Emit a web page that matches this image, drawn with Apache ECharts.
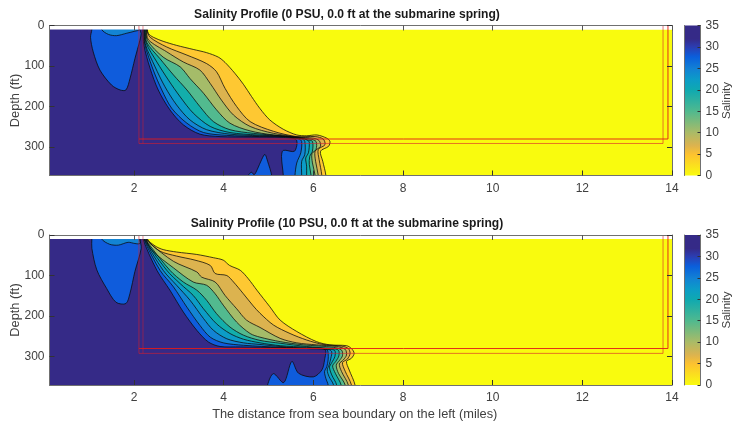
<!DOCTYPE html>
<html><head><meta charset="utf-8">
<style>html,body{margin:0;padding:0;background:#fff}#c{width:733px;height:428px}</style>
<script src="https://cdn.jsdelivr.net/npm/echarts@6/dist/echarts.min.js"></script>
</head><body><div id="c"></div>
<script>
const titles = ['Salinity Profile (0 PSU, 0.0 ft at the submarine spring)','Salinity Profile (10 PSU, 0.0 ft at the submarine spring)'];
const xLabel = 'The distance from sea boundary on the left (miles)';
const yLabel = 'Depth (ft)';
const cbLabel = 'Salinity';
const xTicks = [2,4,6,8,10,12,14];
const yTicks = [0,100,200,300];
const bandColors = ['#fec832','#dcb34f','#a5bc69','#52ba8f','#13aeab','#0c9cc7','#1384d4','#0f5cdc','#352a87'];
const yellow = '#f9fb0e';
const colorbarStops = [[0,'#352a87'],[0.09,'#352a87'],[0.14,'#2c3cb0'],[0.21,'#0a5fdc'],[0.29,'#1282d4'],[0.36,'#0c9cc7'],[0.43,'#0fa9b0'],[0.57,'#4fb98f'],[0.71,'#a8bb68'],[0.80,'#dcb34f'],[0.86,'#fdc22f'],[1,'#f9fb0e']];

const fieldBox = [[0.115,10],[14,10],[14,370],[0.115,370]];
const topBand = [[0.115,0],[14,0],[14,10],[0.115,10]];

const u1 = [[2.30,10],[2.32,20],[2.43,29],[2.65,39],[2.95,49],[3.32,59],[3.62,67],[3.88,78],[4.03,91],[4.25,118],[4.44,145],[4.62,175],[4.81,205],[5.03,233],[5.33,256],[5.63,270],[5.85,272],[6.08,270],[6.30,278],[6.37,286],[6.34,298],[6.16,310],[6.21,335],[6.28,370]];
const u2 = [[2.29,10],[2.36,29],[2.73,53],[3.18,73],[3.62,94],[3.84,114],[4.03,155],[4.29,200],[4.59,237],[5.11,261],[5.63,274],[6.04,274],[6.22,280],[6.26,294],[6.11,306],[6.13,331],[6.19,370]];
const u3 = [[2.28,10],[2.32,35],[2.73,65],[3.10,90],[3.47,110],[3.70,143],[3.95,184],[4.22,221],[4.59,249],[5.11,266],[5.65,275],[6.0,278],[6.13,284],[6.16,298],[6.04,310],[6.05,335],[6.11,370]];
const u4 = [[2.27,10],[2.30,37],[2.65,78],[3.03,102],[3.25,131],[3.55,167],[3.84,208],[4.14,241],[4.59,260],[5.11,270],[5.65,276],[5.93,280],[6.06,286],[6.06,306],[5.97,316],[5.98,339],[6.04,370]];
const u5 = [[2.26,10],[2.28,41],[2.58,82],[2.88,122],[3.18,159],[3.47,200],[3.77,237],[4.14,257],[4.66,266],[5.26,272],[5.7,277],[5.87,282],[5.98,286],[5.98,310],[5.92,323],[5.91,343],[5.95,370]];
const u6 = [[2.24,10],[2.27,43],[2.51,90],[2.77,135],[3.03,176],[3.32,216],[3.70,249],[4.14,264],[4.74,270],[5.3,273],[5.75,278],[5.87,283],[5.91,288],[5.89,314],[5.83,327],[5.85,347],[5.85,370]];
const u7 = [[2.23,10],[2.25,45],[2.47,102],[2.69,151],[2.95,196],[3.25,233],[3.62,257],[4.14,268],[4.8,272],[5.4,274],[5.75,280],[5.81,286],[5.81,318],[5.74,335],[5.74,370]];
const u8 = [[2.22,10],[2.24,46],[2.43,110],[2.62,159],[2.84,204],[3.18,241],[3.55,264],[4.07,271],[4.8,274],[5.4,275],[5.68,280],[5.74,286],[5.72,314],[5.63,339],[5.59,370]];
const u9 = [[2.20,10],[2.22,48],[2.36,106],[2.54,159],[2.80,208],[3.10,245],[3.47,268],[3.92,274],[4.6,275],[5.3,276],[5.62,282],[5.58,310],[5.33,308],[5.29,323],[5.33,370]];
const uBlob = [[1.06,10],[1.03,29],[1.09,65],[1.24,110],[1.50,147],[1.69,159],[1.82,159],[1.91,131],[2.02,82],[2.13,37],[2.16,20],[2.13,10]];
const uSubBlob = [[1.28,10],[1.43,22],[1.61,25],[1.84,19],[2.02,14],[2.12,10]];
const uBottomBlob = [[4.55,370],[4.62,362],[4.68,368],[4.75,355],[4.85,330],[4.92,318],[4.98,335],[5.07,370]];

const l1 = [[2.30,10],[2.47,27],[2.65,36],[2.95,42],[3.40,48],[3.77,56],[3.99,62],[4.13,75],[4.37,87],[4.55,108],[4.74,136],[5.03,177],[5.26,210],[5.63,238],[6.07,263],[6.37,271],[6.74,273],[6.85,280],[6.91,292],[6.85,304],[6.74,312],[6.80,333],[6.93,370]];
const l2 = [[2.29,10],[2.32,16],[2.58,40],[2.95,52],[3.36,62],[3.70,75],[3.81,95],[4.07,100],[4.22,116],[4.44,145],[4.66,175],[4.81,193],[5.11,222],[5.48,243],[5.85,259],[6.22,270],[6.63,274],[6.78,280],[6.82,292],[6.76,306],[6.65,315],[6.71,336],[6.85,370]];
const l3 = [[2.28,10],[2.36,21],[2.88,65],[3.40,91],[3.51,104],[3.81,116],[4.03,149],[4.29,182],[4.51,210],[4.81,228],[5.26,255],[5.63,266],[6.07,271],[6.52,275],[6.71,282],[6.74,296],[6.67,308],[6.58,318],[6.63,337],[6.78,370]];
const l4 = [[2.27,10],[2.40,38],[2.88,81],[3.32,116],[3.62,124],[3.81,145],[3.99,173],[4.29,215],[4.59,243],[4.81,252],[5.26,263],[5.78,271],[6.45,277],[6.63,284],[6.65,298],[6.58,310],[6.51,321],[6.56,341],[6.71,370]];
const l5 = [[2.26,10],[2.32,21],[2.80,87],[3.10,116],[3.40,136],[3.62,161],[3.84,194],[4.14,227],[4.44,247],[4.81,260],[5.26,267],[5.85,275],[6.41,280],[6.56,284],[6.57,298],[6.50,312],[6.43,323],[6.49,341],[6.62,370]];
const l6 = [[2.24,10],[2.73,87],[3.03,120],[3.32,149],[3.55,182],[3.84,219],[4.14,243],[4.44,257],[4.81,266],[5.26,273],[5.85,277],[6.37,282],[6.48,285],[6.48,300],[6.41,315],[6.36,326],[6.41,345],[6.52,370]];
const l7 = [[2.23,10],[2.65,87],[2.95,124],[3.25,161],[3.55,206],[3.77,235],[4.07,256],[4.44,266],[4.81,270],[5.26,275],[5.85,280],[6.33,282],[6.41,288],[6.39,304],[6.35,321],[6.31,333],[6.35,349],[6.45,370]];
const l8 = [[2.22,10],[2.58,87],[2.88,128],[3.18,178],[3.47,223],[3.70,252],[3.99,266],[4.44,272],[5.26,277],[5.85,280],[6.30,282],[6.33,292],[6.33,308],[6.30,325],[6.25,337],[6.28,354],[6.33,370]];
const l9 = [[2.20,10],[2.51,87],[2.80,136],[3.10,190],[3.40,235],[3.66,264],[3.92,275],[4.37,276],[5.26,278],[5.85,279],[6.26,282],[6.25,308],[6.19,333],[6.0,350],[5.67,341],[5.52,312],[5.34,364],[5.11,342],[4.98,370]];
const lBlob = [[1.06,10],[1.06,33],[1.17,86],[1.39,132],[1.60,166],[1.82,169],[1.91,144],[2.02,90],[2.16,33],[2.13,10]];
const lSubBlob = [[1.28,10],[1.46,23],[1.65,25],[1.87,18],[2.02,21],[2.13,21],[2.13,10]];

const uRedStrong = [[2.11,280],[13.91,280],[13.91,0]];
const uRedFaint = [[2.11,0],[2.11,291],[13.80,291],[13.80,0]];
const uRedLeft = [[2.20,0],[2.20,291]];
const lRedStrong = [[2.11,280],[13.91,280],[13.91,0]];
const lRedFaint = [[2.11,0],[2.11,292],[13.80,292],[13.80,0]];
const lRedLeft = [[2.20,0],[2.20,292]];

const XMIN = 0.115, XMAX = 14, YMAX = 370, SMOOTH = 0.3;
const axisGray = '#707070', textGray = '#404040', FONT = '"Liberation Sans", Arial, sans-serif';
const grids = [{left:49.5,top:25.5,width:622.5,height:150,outerBoundsMode:'none'},{left:49.5,top:235,width:622.5,height:150,outerBoundsMode:'none'},{left:684,top:25.5,width:16.5,height:150,outerBoundsMode:'none'},{left:684,top:235,width:16.5,height:150,outerBoundsMode:'none'}];

const xAxis = [], yAxis = [], series = [];
function polySeries(g, pts, color, z, smooth){
  series.push({type:'custom',xAxisIndex:g*2,yAxisIndex:g*2,z,silent:true,clip:true,data:[0],
    renderItem:(p,api)=>({type:'polygon',shape:{points:pts.map(q=>api.coord(q)),smooth:smooth||0},style:{fill:color,stroke:null}})});
}
function curveSeries(g, pts, z){
  series.push({type:'custom',xAxisIndex:g*2,yAxisIndex:g*2,z,silent:true,clip:true,data:[0],
    renderItem:(p,api)=>({type:'polyline',shape:{points:pts.map(q=>api.coord(q)),smooth:SMOOTH},style:{fill:null,stroke:'rgba(10,10,10,0.85)',lineWidth:0.9}})});
}
function lineSeries(g, pts, color, width, z){
  series.push({type:'line',xAxisIndex:g*2,yAxisIndex:g*2,z,silent:true,symbol:'none',animation:false,data:pts,lineStyle:{color,width}});
}
function extended(c){
  const a = c[0], b = c[c.length-1];
  const ax = [a[0], a[1] <= 10 ? -10 : YMAX+30], bx = [b[0], b[1] <= 10 ? -10 : YMAX+30];
  return [ax].concat(c,[bx]);
}
function addPanel(g, curves, blob, sub, extraBlob, reds){
  const common = {type:'value',min:XMIN,max:XMAX,gridIndex:g,splitLine:{show:false},z:50};
  xAxis.push(Object.assign({},common,{position:'bottom',axisLine:{onZero:false,lineStyle:{color:axisGray,width:1}},
    axisTick:{inside:true,length:5,customValues:xTicks,lineStyle:{color:'#333',width:1}},
    axisLabel:{customValues:xTicks,color:textGray,fontFamily:FONT,fontSize:12,margin:7},
    name:g===1?xLabel:'',nameLocation:'middle',nameGap:23,nameMoveOverlap:false,nameTextStyle:{color:textGray,fontFamily:FONT,fontSize:12.8,padding:[0,12,0,0]}}));
  xAxis.push(Object.assign({},common,{position:'top',axisLine:{onZero:false,lineStyle:{color:axisGray,width:1}},
    axisTick:{inside:true,length:5,customValues:xTicks,lineStyle:{color:'#555',width:1}},axisLabel:{show:false}}));
  const yc = {type:'value',min:0,max:YMAX,inverse:true,gridIndex:g,splitLine:{show:false},z:50};
  yAxis.push(Object.assign({},yc,{position:'left',axisLine:{onZero:false,lineStyle:{color:axisGray,width:1}},
    axisTick:{inside:true,length:5,customValues:yTicks,lineStyle:{color:'#333',width:1}},
    axisLabel:{customValues:yTicks,color:textGray,fontFamily:FONT,fontSize:12,margin:5},
    name:yLabel,nameLocation:'middle',nameRotate:90,nameGap:28,nameMoveOverlap:false,nameTextStyle:{color:textGray,fontFamily:FONT,fontSize:12.8}}));
  yAxis.push(Object.assign({},yc,{position:'right',axisLine:{onZero:false,lineStyle:{color:axisGray,width:1}},
    axisTick:{inside:true,length:5,customValues:yTicks,lineStyle:{color:'#333',width:1}},axisLabel:{show:false}}));
  polySeries(g, fieldBox, yellow, 1);
  curves.forEach((c,i)=>{
    const e = extended(c);
    const closed = e.concat([[XMIN-3,YMAX+60],[XMIN-3,-10]]);
    polySeries(g, closed, bandColors[i], 2+i, SMOOTH);
  });
  polySeries(g, extended(blob), bandColors[7], 12, SMOOTH);
  polySeries(g, extended(sub), bandColors[6], 13, SMOOTH);
  extraBlob.forEach(b=>polySeries(g,extended(b),bandColors[7],12,SMOOTH));
  curves.forEach(c=>curveSeries(g,extended(c),20));
  [blob,sub].concat(extraBlob).forEach(b=>curveSeries(g,extended(b),20));
  polySeries(g, topBand, '#ffffff', 25);
  lineSeries(g,reds[0],'rgba(225,25,25,0.9)',1,30);
  lineSeries(g,reds[1],'rgba(215,30,45,0.6)',1,30);
  lineSeries(g,reds[2],'rgba(215,30,45,0.5)',1,30);
}
addPanel(0,[u1,u2,u3,u4,u5,u6,u7,u8,u9],uBlob,uSubBlob,[uBottomBlob],[uRedStrong,uRedFaint,uRedLeft]);
addPanel(1,[l1,l2,l3,l4,l5,l6,l7,l8,l9],lBlob,lSubBlob,[],[lRedStrong,lRedFaint,lRedLeft]);

[2,3].forEach(g=>{
  xAxis.push({type:'category',gridIndex:g,data:[''],show:false});
  xAxis.push({type:'category',gridIndex:g,data:[''],show:false,position:'top'});
  yAxis.push({type:'value',gridIndex:g,min:0,max:35,interval:5,position:'right',splitLine:{show:false},z:50,
    axisLine:{show:true,onZero:false,lineStyle:{color:axisGray,width:1}},
    axisTick:{show:true,inside:true,length:3,lineStyle:{color:'#333',width:1}},
    axisLabel:{color:textGray,fontFamily:FONT,fontSize:12,margin:5},
    name:cbLabel,nameLocation:'middle',nameRotate:90,nameGap:20.5,nameMoveOverlap:false,nameTextStyle:{color:textGray,fontFamily:FONT,fontSize:11.5}});
  yAxis.push({type:'value',gridIndex:g,min:0,max:35,position:'left',show:true,splitLine:{show:false},z:50,
    axisLine:{show:true,onZero:false,lineStyle:{color:axisGray,width:1}},axisTick:{show:false},axisLabel:{show:false}});
  series.push({type:'bar',xAxisIndex:g*2,yAxisIndex:g*2,barWidth:'100%',silent:true,data:[35],z:5,
    itemStyle:{color:{type:'linear',x:0,y:0,x2:0,y2:1,colorStops:colorbarStops.map(s=>({offset:s[0],color:s[1]}))}}});
});

const chart = echarts.init(document.getElementById('c'),null,{renderer:'canvas'});
chart.setOption({
  animation:false,backgroundColor:'#fff',
  title:titles.map((t,i)=>({text:t,left:342,top:i===0?4:213,textAlign:'center',textStyle:{fontFamily:FONT,fontSize:12.1,fontWeight:'bold',color:'#1a1a1a'}})),
  grid:grids,xAxis,yAxis,series
});
</script></body></html>
